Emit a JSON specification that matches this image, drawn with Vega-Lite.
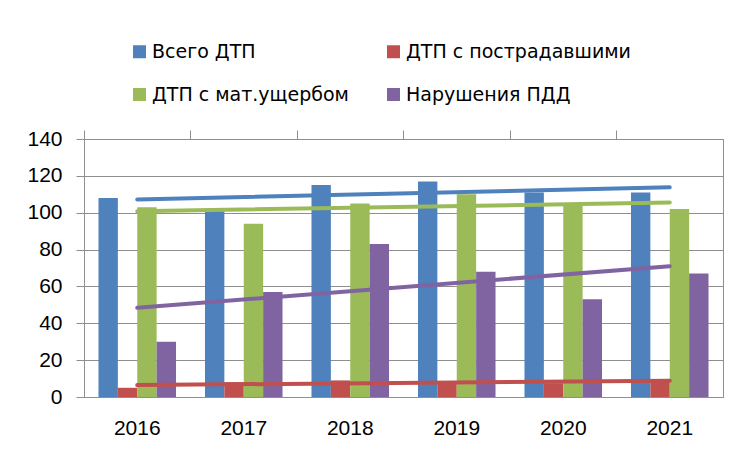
{
  "$schema": "https://vega.github.io/schema/vega-lite/v6.json",
  "width": 639,
  "height": 258,
  "autosize": {"type": "none"},
  "padding": {"left": 84, "top": 139, "right": 21, "bottom": 57},
  "background": "white",
  "config": {
    "font": "Liberation Sans",
    "view": {"stroke": "#8e8e8e", "strokeWidth": 1},
    "axis": {"labelColor": "#000000", "labelFont": "Liberation Sans"},
    "axisY": {
      "grid": true,
      "gridColor": "#8e8e8e",
      "domainColor": "#8e8e8e",
      "tickColor": "#8e8e8e",
      "tickSize": 8,
      "labelFontSize": 21,
      "labelPadding": 14,
      "labelOverlap": false,
      "labelFlush": false
    },
    "legend": {"labelColor": "#000000", "labelFont": "DejaVu Sans"}
  },
  "data": {
    "values": [
      {"year": 2016, "series": "Всего ДТП", "value": 108},
      {"year": 2017, "series": "Всего ДТП", "value": 101},
      {"year": 2018, "series": "Всего ДТП", "value": 115},
      {"year": 2019, "series": "Всего ДТП", "value": 117},
      {"year": 2020, "series": "Всего ДТП", "value": 111},
      {"year": 2021, "series": "Всего ДТП", "value": 111},
      {"year": 2016, "series": "ДТП с пострадавшими", "value": 5},
      {"year": 2017, "series": "ДТП с пострадавшими", "value": 8},
      {"year": 2018, "series": "ДТП с пострадавшими", "value": 9},
      {"year": 2019, "series": "ДТП с пострадавшими", "value": 7.5},
      {"year": 2020, "series": "ДТП с пострадавшими", "value": 7.5},
      {"year": 2021, "series": "ДТП с пострадавшими", "value": 9},
      {"year": 2016, "series": "ДТП с мат.ущербом", "value": 103},
      {"year": 2017, "series": "ДТП с мат.ущербом", "value": 94},
      {"year": 2018, "series": "ДТП с мат.ущербом", "value": 105},
      {"year": 2019, "series": "ДТП с мат.ущербом", "value": 110},
      {"year": 2020, "series": "ДТП с мат.ущербом", "value": 105},
      {"year": 2021, "series": "ДТП с мат.ущербом", "value": 102},
      {"year": 2016, "series": "Нарушения ПДД", "value": 30},
      {"year": 2017, "series": "Нарушения ПДД", "value": 57},
      {"year": 2018, "series": "Нарушения ПДД", "value": 83},
      {"year": 2019, "series": "Нарушения ПДД", "value": 68},
      {"year": 2020, "series": "Нарушения ПДД", "value": 53},
      {"year": 2021, "series": "Нарушения ПДД", "value": 67}
    ]
  },
  "layer": [
    {
      "mark": {"type": "bar"},
      "encoding": {
        "x": {
          "field": "year",
          "type": "ordinal",
          "scale": {"paddingInner": 0.272, "paddingOuter": 0.136},
          "axis": {
            "title": null,
            "labelAngle": 0,
            "ticks": false,
            "tickSize": 0,
            "domain": true,
            "domainColor": "#8e8e8e",
            "labelFontSize": 21,
            "labelPadding": 20,
            "grid": false
          }
        },
        "xOffset": {
          "field": "series",
          "type": "nominal",
          "sort": ["Всего ДТП", "ДТП с пострадавшими", "ДТП с мат.ущербом", "Нарушения ПДД"],
          "scale": {"paddingInner": 0, "paddingOuter": 0}
        },
        "y": {
          "field": "value",
          "type": "quantitative",
          "scale": {"domain": [0, 140], "nice": false},
          "axis": {"title": null, "values": [0, 20, 40, 60, 80, 100, 120, 140], "tickCount": 8}
        },
        "color": {
          "field": "series",
          "type": "nominal",
          "scale": {
            "domain": ["Всего ДТП", "ДТП с мат.ущербом", "ДТП с пострадавшими", "Нарушения ПДД"],
            "range": ["#4F81BD", "#9BBB59", "#C0504D", "#8064A2"]
          },
          "legend": {
            "title": null,
            "orient": "none",
            "legendX": 46,
            "legendY": -97,
            "columns": 2,
            "columnPadding": 35,
            "rowPadding": 23,
            "padding": 0,
            "symbolType": "square",
            "symbolSize": 169,
            "symbolStrokeWidth": 0,
            "labelFontSize": 19,
            "labelOffset": 3,
            "labelLimit": 400
          }
        }
      }
    },
    {
      "transform": [{"regression": "value", "on": "year", "groupby": ["series"]}],
      "mark": {"type": "line", "strokeWidth": 4, "strokeCap": "round"},
      "encoding": {
        "x": {
          "field": "year",
          "type": "ordinal",
          "axis": {
            "title": null,
            "labels": false,
            "domain": false,
            "grid": false,
            "ticks": true,
            "bandPosition": 0,
            "tickOffset": -14.5,
            "tickSize": 9,
            "tickColor": "#8e8e8e"
          }
        },
        "y": {
          "field": "value",
          "type": "quantitative",
          "axis": {"title": null, "values": [0, 20, 40, 60, 80, 100, 120, 140], "tickCount": 8}
        },
        "color": {"field": "series", "type": "nominal", "legend": null}
      }
    }
  ],
  "resolve": {"axis": {"x": "independent"}}
}
